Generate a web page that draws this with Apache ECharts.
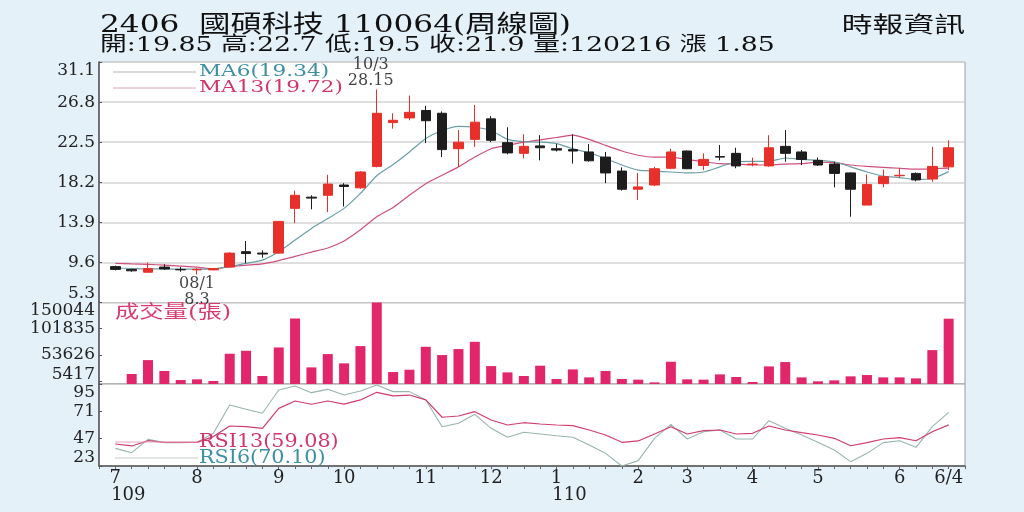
<!DOCTYPE html>
<html lang="zh-Hant">
  <head>
    <meta charset="UTF-8" />
    <title>2406 國碩科技 周線圖</title>
    <style>
      html,
      body {
        margin: 0;
        padding: 0;
        background: #e4f1f8;
      }

      #main {
        width: 1024px;
        height: 512px;
      }
    </style>
  </head>

  <body>
    <div id="main"></div>

    <script src="https://cdn.jsdelivr.net/npm/echarts@6.0.0/dist/echarts.min.js"></script>
    <script>
      // weekly bars, 109/7 .. 110/6/4
      var weekLabels = [
        "7\n109", "", "", "", "", "8", "", "", "", "", "9", "", "", "",
        "10", "", "", "", "", "11", "", "", "", "12", "", "", "",
        "1\n110", "", "", "", "", "2", "", "", "3", "", "", "", "4",
        "", "", "", "5", "", "", "", "", "6", "", "", "6/4"
      ];
      var open = [
        9.15, 8.85, 8.55, 9.1, 8.85, 8.8, 8.8, 9.1, 10.75, 10.6, 10.6, 15.4, 16.6,
        16.8, 17.9, 17.6, 19.9, 24.6, 25.1, 25.9, 25.6, 21.8, 22.8, 25.0, 22.45,
        21.3, 22.1, 21.8, 21.7, 21.45, 20.9, 19.4, 17.45, 17.9, 19.7, 21.55, 20.0,
        20.95, 21.3, 20.1, 19.95, 22.05, 21.45, 20.55, 20.15, 19.2, 15.75, 18.05,
        18.9, 19.15, 18.55, 19.85
      ];
      var close = [
        8.85, 8.7, 8.95, 8.9, 8.8, 8.85, 8.95, 10.6, 10.55, 10.5, 14.0, 16.8, 16.5,
        18.0, 17.75, 19.3, 25.6, 24.85, 25.7, 24.8, 21.7, 22.5, 24.65, 22.7, 21.35,
        22.05, 21.9, 21.65, 21.55, 20.5, 19.2, 17.45, 17.7, 19.65, 21.45, 19.65,
        20.65, 20.9, 19.95, 20.15, 21.9, 21.3, 20.65, 20.05, 19.15, 17.45, 17.95,
        18.8, 18.95, 18.45, 19.9, 21.9
      ];
      var low = [
        8.75, 8.6, 8.5, 8.8, 8.6, 8.3, 8.75, 9.05, 9.5, 10.1, 10.5, 13.8, 15.3,
        15.0, 15.6, 17.5, 19.8, 23.95, 24.85, 22.4, 20.9, 19.85, 22.0, 22.5, 21.2,
        20.75, 20.55, 21.5, 20.2, 20.4, 18.1, 17.3, 16.3, 17.8, 19.6, 19.6, 19.5,
        20.55, 19.7, 19.9, 19.85, 20.4, 20.05, 19.95, 17.65, 14.5, 15.75, 17.65,
        18.7, 18.3, 18.25, 19.5
      ];
      var high = [
        9.25, 8.9, 9.6, 9.4, 9.1, 9.0, 9.0, 10.7, 11.9, 10.9, 14.0, 17.3, 16.8,
        19.0, 18.1, 19.4, 28.15, 25.6, 27.5, 26.4, 25.8, 23.8, 26.5, 25.3, 24.1,
        23.35, 23.25, 22.3, 23.35, 22.3, 21.45, 19.8, 19.2, 19.85, 21.8, 21.6,
        21.3, 22.2, 21.9, 20.85, 23.25, 23.8, 21.65, 20.85, 20.4, 19.25, 19.05,
        19.55, 19.75, 19.25, 22.0, 22.7
      ];
      var ma6 = [
        9.0, 8.95, 8.9, 8.9, 8.87, 8.87, 8.9, 9.15, 9.5, 9.85, 10.75, 12.0, 13.25,
        14.3, 15.4, 17.0, 18.9, 20.1, 21.45, 22.9, 23.75, 24.2, 24.1, 23.75, 22.8,
        22.55, 22.5, 22.35, 21.8, 21.35, 20.75, 20.05, 19.5, 19.4, 19.3, 19.2,
        19.3, 19.85, 20.4, 20.45, 20.45, 20.8, 20.65, 20.55, 20.4, 19.85, 19.3,
        18.85, 18.7, 18.5, 18.6, 19.34
      ];
      var ma13 = [
        9.5, 9.45, 9.4, 9.3, 9.2, 9.1, 8.9, 9.15, 9.3, 9.45, 9.8, 10.25, 10.7,
        11.15, 11.9, 13.1, 14.5, 15.5, 16.8, 18.05, 18.95, 19.85, 20.9, 21.8,
        22.15, 22.5, 22.75, 23.0, 23.25, 22.8, 22.15, 21.55, 21.1, 20.9, 20.9,
        20.65, 20.4, 20.2, 20.15, 20.05, 20.05, 20.15, 20.2, 20.35, 20.3, 20.05,
        19.9, 19.8, 19.7, 19.6, 19.65, 19.72
      ];
      var volume = [
        null, 18400, 44000, 23900, 7300, 8600, 5500, 55700, 61200, 14700, 67300,
        120600, 30600, 55100, 38000, 69800, 150044, 22000, 26300, 68500, 53300,
        64300, 77700, 33000, 21400, 14700, 33700, 9200, 26900, 12200, 23900, 9200,
        8000, 3000, 41000, 8600, 8000, 17700, 12900, 3700, 32400, 40400, 12200,
        4900, 6700, 14100, 16500, 12200, 12200, 10400, 62400, 120216
      ];
      var rsi6 = [
        38.5, 34.7, 46.4, 43.5, 43.5, 43.8, 51.7, 76.6, 72.8, 69.3, 89.7, 93.2,
        87.4, 90.3, 85.3, 88.9, 94.1, 88.3, 88.3, 81, 57.5, 60.5, 68.4, 56.1, 48.2,
        52.6, 51.1, 49.6, 48.2, 41.4, 34.1, 23, 27.7, 47.3, 59.6, 46.7, 53.1, 54.6,
        46.7, 46.7, 62.8, 56.1, 50.2, 43.8, 37.1, 26.8, 34.1, 43.5, 45.2, 39.4,
        57.5, 70.1
      ];
      var rsi13 = [
        42.3, 40.6, 45.2, 43.8, 43.8, 43.8, 48.8, 58.1, 57.5, 56.1, 73.6, 80.1,
        77.2, 80.1, 77.4, 81, 87.7, 84.5, 85.3, 81, 65.8, 66.9, 70.7, 63.4, 59, 61,
        59.9, 59, 58.4, 54.6, 50.2, 43.8, 45, 51.1, 57.5, 51.1, 54, 54.6, 51.1,
        51.7, 58.1, 54.6, 52.3, 50.2, 47.3, 40.8, 43.5, 46.7, 47.9, 45.2, 53.1,
        59.08
      ];
      var volumeTicks = [5417, 53626, 101835, 150044];
      var noteHighIndex = 16, noteHighDate = "10/3";
      var noteLowIndex = 5, noteLowDate = "08/1";

      var SERIF = "'DejaVu Serif', 'Noto Sans CJK TC', serif";
      var TEAL = "#3d8fa3";
      var PINK = "#d2356b";

      // one empty slot on each side so the first and last week sit inside the box
      var cats = [""].concat(weekLabels, [""]);
      function xy(arr) {
        return arr.map(function(v, i) {
          return [i + 1, v == null ? "-" : v];
        });
      }
      var candles = open.map(function(o, i) {
        return [i + 1, o, close[i], low[i], high[i]];
      });

      function txt(x, y, text, size, color, scaleX, align) {
        return {
          type: "text",
          x: x,
          y: y,
          scaleX: scaleX || 1,
          silent: true,
          z: 100,
          style: {
            text: text,
            fill: color || "#111",
            font: size + "px " + SERIF,
            textAlign: align || "left",
            textVerticalAlign: "middle"
          }
        };
      }
      function hline(x1, x2, y, color) {
        return {
          type: "line",
          silent: true,
          z: 99,
          shape: { x1: x1, y1: y, x2: x2, y2: y },
          style: { stroke: color, lineWidth: 1 }
        };
      }

      var hiddenX = function(idx) {
        return {
          type: "category",
          gridIndex: idx,
          data: cats,
          boundaryGap: false,
          show: false
        };
      };
      var yLabel = {
        fontFamily: SERIF,
        fontSize: 17,
        color: "#222",
        margin: 4,
        verticalAlignMaxLabel: "top",
        verticalAlignMinLabel: "bottom"
      };
      var yLine = { show: true, lineStyle: { color: "#555", width: 1.5 } };

      var chart = echarts.init(document.getElementById("main"));
      chart.setOption({
        backgroundColor: "#e4f1f8",
        animation: false,
        grid: [
          { left: 99, right: 59, top: 62, height: 240.5 },
          { left: 99, right: 59, top: 302.5, height: 81.5 },
          { left: 99, right: 59, top: 384, height: 82 }
        ].map(function(g) {
          g.show = true;
          g.backgroundColor = "#fff";
          g.borderColor = "#9a9a9a";
          g.borderWidth = 1;
          return g;
        }),
        xAxis: [
          hiddenX(0),
          hiddenX(1),
          {
            type: "category",
            gridIndex: 2,
            data: cats,
            boundaryGap: false,
            axisLine: { lineStyle: { color: "#555", width: 1.5 } },
            axisTick: {
              show: true,
              interval: 0,
              length: 3,
              lineStyle: { color: "#666" }
            },
            axisLabel: {
              interval: 0,
              fontFamily: SERIF,
              fontSize: 18,
              lineHeight: 17,
              color: "#222",
              margin: 4,
              formatter: function(v) {
                var p = v.split("\n");
                return p.length > 1 ? p[0] + "\n{yr|" + p[1] + "}" : v;
              },
              rich: {
                yr: {
                  fontFamily: SERIF,
                  fontSize: 18,
                  lineHeight: 17,
                  color: "#222",
                  padding: [0, 0, 0, 26]
                }
              }
            }
          }
        ],
        yAxis: [
          {
            type: "value",
            gridIndex: 0,
            min: 5.3,
            max: 31.1,
            interval: 4.3,
            axisLine: yLine,
            axisTick: { show: true, inside: true, length: 3 },
            axisLabel: yLabel,
            splitLine: { lineStyle: { color: "#d4d4d4", width: 1.5 } }
          },
          {
            type: "value",
            gridIndex: 1,
            min: 0,
            max: 150044,
            axisLine: yLine,
            axisTick: {
              show: true,
              inside: true,
              length: 3,
              customValues: volumeTicks
            },
            axisLabel: Object.assign({}, yLabel, {
              customValues: volumeTicks,
              verticalAlignMinLabel: null,
              formatter: function(v) {
                return v === volumeTicks[0] ? "{lo|" + v + "}" : String(v);
              },
              rich: {
                lo: {
                  fontFamily: SERIF,
                  fontSize: 17,
                  color: "#222",
                  padding: [0, 0, 13, 0]
                }
              }
            }),
            splitLine: { show: false }
          },
          {
            type: "value",
            gridIndex: 2,
            min: 23,
            max: 95,
            interval: 24,
            axisLine: yLine,
            axisTick: { show: true, inside: true, length: 3 },
            axisLabel: yLabel,
            splitLine: { show: false }
          }
        ],
        series: [
          {
            name: "MA13",
            type: "line",
            data: xy(ma13),
            symbol: "none",
            smooth: 0.2,
            lineStyle: { color: "#cf4f7c", width: 1.2 },
            z: 3
          },
          {
            name: "MA6",
            type: "line",
            data: xy(ma6),
            symbol: "none",
            smooth: 0.2,
            lineStyle: { color: "#6a9ea6", width: 1.2 },
            z: 3
          },
          {
            name: "K",
            type: "candlestick",
            data: candles,
            encode: { x: 0, y: [1, 2, 3, 4] },
            barWidth: 10,
            itemStyle: {
              color: "#e8302a",
              color0: "#1d1d1d",
              borderColor: "#e8302a",
              borderColor0: "#1d1d1d",
              borderWidth: 1
            },
            z: 4
          },
          {
            name: "note",
            type: "scatter",
            symbolSize: 0,
            data: [
              {
                value: [noteHighIndex + 1, high[noteHighIndex]],
                label: {
                  position: "top",
                  offset: [-6, 0],
                  formatter: noteHighDate + "\n" + high[noteHighIndex]
                }
              },
              {
                value: [noteLowIndex + 1, low[noteLowIndex]],
                label: {
                  position: "bottom",
                  formatter: noteLowDate + "\n" + low[noteLowIndex]
                }
              }
            ],
            label: {
              show: true,
              distance: 1,
              fontFamily: SERIF,
              fontSize: 16,
              lineHeight: 16,
              color: "#111"
            },
            z: 6
          },
          {
            name: "成交量",
            type: "bar",
            xAxisIndex: 1,
            yAxisIndex: 1,
            data: xy(volume),
            barWidth: 10,
            itemStyle: { color: "#e2266c" }
          },
          {
            name: "RSI6",
            type: "line",
            xAxisIndex: 2,
            yAxisIndex: 2,
            data: xy(rsi6),
            symbol: "none",
            lineStyle: { color: "#98b4b0", width: 1.1 }
          },
          {
            name: "RSI13",
            type: "line",
            xAxisIndex: 2,
            yAxisIndex: 2,
            data: xy(rsi13),
            symbol: "none",
            lineStyle: { color: "#cf3d70", width: 1.2 }
          }
        ],
        graphic: [
          txt(100, 26, "2406  國碩科技 110064(周線圖)", 24, "#111", 1.3),
          txt(100, 46, "開:19.85 高:22.7 低:19.5 收:21.9 量:120216 漲 1.85", 20, "#111", 1.34),
          txt(965, 26, "時報資訊", 22, "#111", 1.4, "right"),
          hline(113, 196, 72, "#b4b4b4"),
          hline(113, 196, 88, "#dba6b8"),
          txt(199, 72, "MA6(" + ma6[ma6.length - 1] + ")", 17, TEAL, 1.27),
          txt(199, 88, "MA13(" + ma13[ma13.length - 1] + ")", 17, PINK, 1.27),
          txt(115, 313, "成交量(張)", 18, "#d93a72", 1.35),
          hline(115, 198, 442, "#e2a6bc"),
          hline(115, 198, 458, "#c4cccc"),
          txt(199, 442, "RSI13(" + rsi13[rsi13.length - 1] + ")", 18, PINK, 1.15),
          txt(199, 458, "RSI6(" + rsi6[rsi6.length - 1].toFixed(2) + ")", 18, TEAL, 1.15)
        ]
      });
    </script>
  </body>
</html>
